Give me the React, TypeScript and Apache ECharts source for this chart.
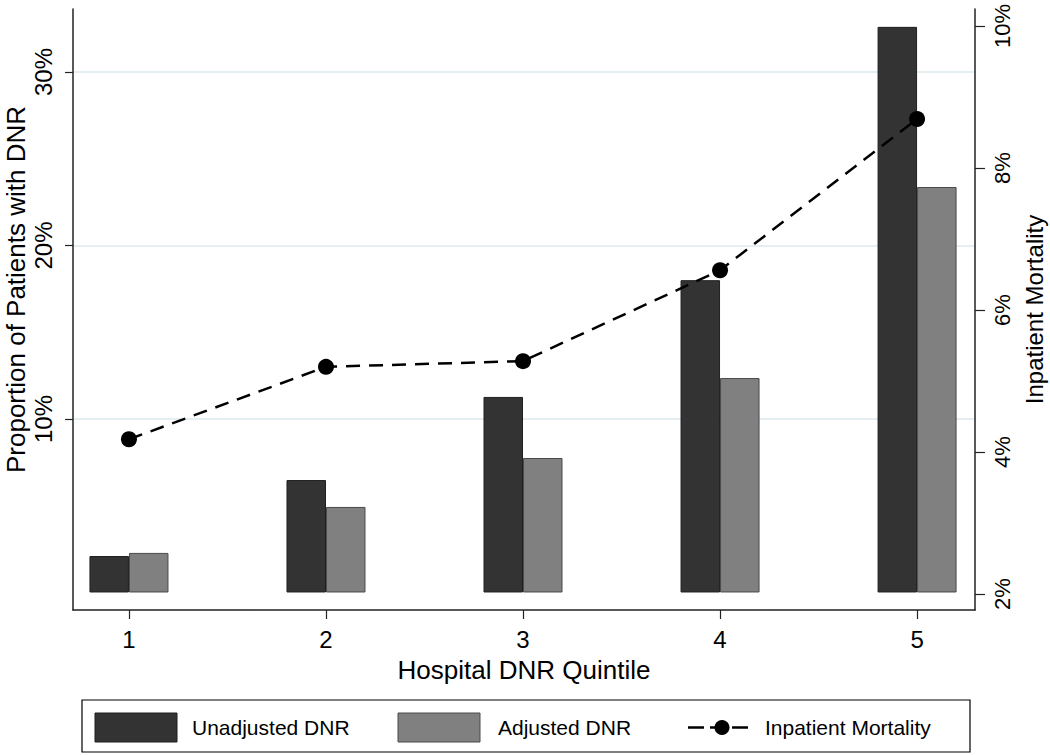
import React, { useEffect, useRef } from "react";
import * as echarts from "echarts";

const quintiles = [1, 2, 3, 4, 5];
const unadjustedDNR = [2.1, 6.48, 11.27, 18.0, 32.6];
const adjustedDNR = [2.28, 4.93, 7.75, 12.36, 23.37];
const inpatientMortality = [4.18, 5.2, 5.28, 6.56, 8.69];
const leftTicks = [10, 20, 30];
const rightTicks = [2, 4, 6, 8, 10];
const legendLabels = ["Unadjusted DNR", "Adjusted DNR", "Inpatient Mortality"];

const FONT = "'Liberation Sans', Arial, Helvetica, sans-serif";
const AXIS_COLOR = "#222";

export default function App() {
  const ref = useRef<HTMLDivElement>(null);

  useEffect(() => {
    if (!ref.current) return;
    const chart = echarts.init(ref.current, undefined, { renderer: "svg" });
    const legendY = 727.5;
    chart.setOption({
      animation: false,
      backgroundColor: "#fff",
      textStyle: { fontFamily: FONT },
      grid: { left: 73, right: 75, top: 9, bottom: 145, containLabel: false, outerBoundsMode: "none" },
      xAxis: {
        type: "value",
        min: 0.716,
        max: 5.294,
        name: "Hospital DNR Quintile",
        nameLocation: "middle",
        nameGap: 47,
        nameMoveOverlap: false,
        nameTextStyle: { fontSize: 26, color: "#000", fontFamily: FONT },
        axisLine: { show: true, onZero: false, lineStyle: { color: AXIS_COLOR, width: 1.5 } },
        axisTick: { show: true, length: 9, customValues: quintiles, lineStyle: { color: AXIS_COLOR, width: 1.2 } },
        axisLabel: { customValues: quintiles, fontSize: 24, color: "#000", margin: 17, fontFamily: FONT },
        splitLine: { show: false },
      },
      yAxis: [
        {
          type: "value",
          position: "left",
          min: -1.01,
          max: 33.63,
          name: "Proportion of Patients with DNR",
          nameLocation: "middle",
          nameRotate: 90,
          nameGap: 44,
          nameMoveOverlap: false,
          nameTextStyle: { fontSize: 26, color: "#000", fontFamily: FONT, padding: [0, 0, 0, 40] },
          axisLine: { show: true, lineStyle: { color: AXIS_COLOR, width: 1.5 } },
          axisTick: { show: true, length: 8, customValues: leftTicks, lineStyle: { color: AXIS_COLOR, width: 1.2 } },
          axisLabel: {
            customValues: leftTicks,
            formatter: "{value}%",
            rotate: 90,
            fontSize: 24,
            color: "#000",
            margin: 18,
            fontFamily: FONT,
          },
          splitLine: { show: true, lineStyle: { color: "#dde9ef", width: 1.5 } },
        },
        {
          type: "value",
          position: "right",
          min: 1.775,
          max: 10.24,
          name: "Inpatient Mortality",
          nameLocation: "middle",
          nameRotate: 90,
          nameGap: 47,
          nameMoveOverlap: false,
          nameTextStyle: { fontSize: 24, color: "#000", fontFamily: FONT },
          axisLine: { show: true, lineStyle: { color: AXIS_COLOR, width: 1.5 } },
          axisTick: { show: true, length: 10, customValues: rightTicks, lineStyle: { color: AXIS_COLOR, width: 1.2 } },
          axisLabel: {
            customValues: rightTicks,
            formatter: "{value}%",
            rotate: 90,
            fontSize: 22,
            color: "#000",
            margin: 16,
            fontFamily: FONT,
          },
          splitLine: { show: false },
        },
      ],
      series: [
        {
          name: legendLabels[0],
          type: "bar",
          yAxisIndex: 0,
          barWidth: 39.5,
          barGap: "0%",
          data: quintiles.map((q, i) => [q, unadjustedDNR[i]]),
          itemStyle: { color: "#333333", borderColor: "#1f1f1f", borderWidth: 1 },
          z: 2,
        },
        {
          name: legendLabels[1],
          type: "bar",
          yAxisIndex: 0,
          barWidth: 39.5,
          barGap: "0%",
          data: quintiles.map((q, i) => [q, adjustedDNR[i]]),
          itemStyle: { color: "#808080", borderColor: "#4a4a4a", borderWidth: 1 },
          z: 2,
        },
        {
          name: legendLabels[2],
          type: "line",
          yAxisIndex: 1,
          data: quintiles.map((q, i) => [q, inpatientMortality[i]]),
          symbol: "circle",
          symbolSize: 16,
          lineStyle: { color: "#000", width: 2.5, type: [14, 9] },
          itemStyle: { color: "#000" },
          z: 5,
        },
      ],
      graphic: [
        {
          type: "rect",
          shape: { x: 82, y: 700, width: 888, height: 52 },
          style: { fill: "#fff", stroke: "#000", lineWidth: 1.2 },
        },
        {
          type: "rect",
          shape: { x: 95, y: 713, width: 82, height: 29 },
          style: { fill: "#333333", stroke: "#1f1f1f", lineWidth: 1 },
        },
        {
          type: "text",
          x: 192,
          y: legendY,
          style: { text: legendLabels[0], fontSize: 21, fill: "#000", fontFamily: FONT, verticalAlign: "middle" },
        },
        {
          type: "rect",
          shape: { x: 398, y: 713, width: 82, height: 29 },
          style: { fill: "#808080", stroke: "#4a4a4a", lineWidth: 1 },
        },
        {
          type: "text",
          x: 498,
          y: legendY,
          style: { text: legendLabels[1], fontSize: 21, fill: "#000", fontFamily: FONT, verticalAlign: "middle" },
        },
        {
          type: "line",
          shape: { x1: 688, y1: legendY, x2: 752, y2: legendY },
          style: { stroke: "#000", lineWidth: 2.5, lineDash: [16, 6] },
        },
        {
          type: "circle",
          shape: { cx: 722, cy: legendY, r: 7.5 },
          style: { fill: "#000" },
        },
        {
          type: "text",
          x: 765,
          y: legendY,
          style: { text: legendLabels[2], fontSize: 21, fill: "#000", fontFamily: FONT, verticalAlign: "middle" },
        },
      ],
    });
    return () => chart.dispose();
  }, []);

  return (
    <div
      ref={ref}
      style={{ position: "fixed", left: 0, top: 0, width: 1050, height: 755, background: "#fff" }}
    />
  );
}
